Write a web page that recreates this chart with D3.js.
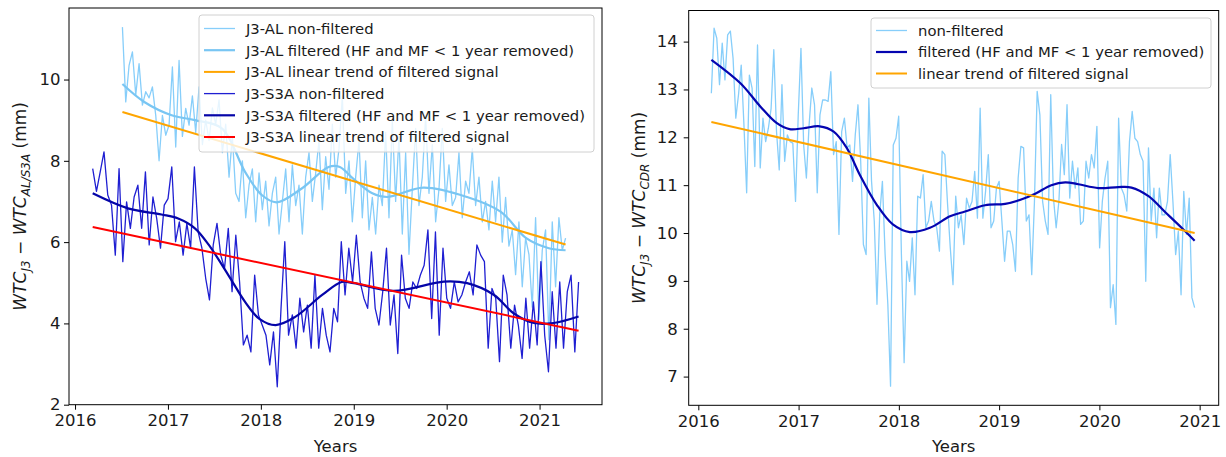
<!DOCTYPE html>
<html>
<head>
<meta charset="utf-8">
<script src="https://cdn.jsdelivr.net/npm/d3@7"></script>
<style>
  body { margin: 0; background: #ffffff; }
  svg { display: block; font-family: "DejaVu Sans", sans-serif; }
</style>
</head>
<body>
<svg id="chart" width="1226" height="457"></svg>
<script>
// ---------------- data ----------------
const yearTicks = [2016, 2017, 2018, 2019, 2020, 2021];
const leftYTicks = [2, 4, 6, 8, 10];
const rightYTicks = [7, 8, 9, 10, 11, 12, 13, 14];

// J3 - AL, one value per ~10-day cycle, first and last epoch (decimal years)
const alSpan = [2016.51, 2021.28];
const alRaw = [
  11.29, 9.45, 10.35, 10.68, 9.62, 10.39, 9.37,
  9.70, 9.55, 9.82, 9.12, 8.00, 9.12, 8.63,
  8.88, 10.31, 8.34, 10.47, 8.60, 9.29, 8.88,
  9.60, 8.70, 9.82, 8.40, 9.00, 8.50, 9.30,
  8.90, 9.50, 8.20, 8.90, 7.60, 8.60, 7.20,
  7.00, 8.00, 6.60, 7.40, 7.80, 6.50, 7.70,
  6.80, 7.50, 6.40, 7.20, 7.60, 6.20, 7.00,
  7.80, 6.50, 7.90, 6.90, 7.40, 6.20, 7.60,
  8.20, 7.00, 7.70, 8.50, 6.80, 8.10, 7.30,
  8.90, 7.60, 8.30, 9.60, 7.20, 8.00, 6.50,
  7.60, 8.50, 6.60, 8.00, 6.30, 7.10, 6.20,
  7.40, 6.90, 8.70, 6.60, 9.00, 7.00, 8.60,
  6.20, 8.20, 5.70, 7.30, 8.80, 6.90, 7.60,
  9.10, 7.20, 8.40, 6.50, 7.30, 8.80, 7.00,
  7.90, 6.90, 7.10, 8.20, 6.60, 7.50, 7.20,
  8.30, 6.90, 7.60, 6.50, 7.00, 6.30, 7.50,
  6.50, 7.60, 6.00, 7.10, 5.90, 6.30, 5.20,
  6.50, 4.90, 6.10, 5.70, 4.40, 6.60, 4.10,
  5.80, 6.30, 3.60, 6.50, 4.90, 6.60, 5.80, 6.10
];
const alFiltYears  = [2016.51, 2016.75, 2017.04, 2017.29, 2017.58, 2017.83, 2018.01, 2018.17, 2018.44, 2018.73, 2018.85, 2019.0, 2019.2, 2019.36, 2019.75, 2020.22, 2020.58, 2020.86, 2021.1, 2021.28];
const alFiltValues = [9.89, 9.44, 9.12, 9.00, 8.80, 7.73, 7.16, 6.98, 7.32, 7.85, 7.85, 7.55, 7.20, 7.11, 7.34, 7.11, 6.75, 6.09, 5.85, 5.80];
const alTrendYears  = [2016.51, 2021.28];
const alTrendValues = [9.20, 5.94];

// J3 - S3A
const s3aSpan = [2016.19, 2021.42];
const s3aRaw = [
  7.81, 7.25, 7.73, 8.22, 7.16, 6.91, 5.68, 7.81, 5.52, 6.99,
  6.34, 7.11, 7.40, 6.34, 7.73, 5.93, 7.11, 6.58, 5.85, 6.91,
  7.07, 7.85, 6.01, 6.50, 5.68, 6.46, 5.85, 7.85, 6.25, 5.85,
  5.11, 4.58, 5.93, 6.46, 5.68, 5.35, 6.34, 4.78, 6.17, 5.02,
  3.47, 3.71, 3.30, 5.19, 4.21, 3.96, 3.71, 2.98, 3.79, 2.44,
  4.37, 6.01, 3.71, 4.21, 3.39, 4.62, 3.79, 4.45, 3.39, 5.19,
  3.39, 4.37, 3.71, 3.30, 4.37, 4.04, 6.01, 4.70, 5.85,
  5.02, 6.17, 5.02, 4.62, 4.37, 5.76, 4.37, 3.96, 4.78, 5.85,
  3.96, 4.70, 3.26, 5.68, 4.62, 4.37, 5.02, 4.86, 5.19, 5.43,
  6.30, 4.12, 6.25, 3.71, 5.85, 4.62, 4.37, 5.02, 4.53, 4.70,
  5.02, 5.27, 4.70, 5.93, 5.68, 5.52, 3.39, 4.86, 4.62, 3.06,
  5.19, 4.70, 3.39, 4.45, 3.96, 3.14, 4.62, 3.39, 4.53, 3.47,
  5.52, 3.71, 2.81, 4.78, 3.39, 5.02, 3.39, 4.78, 5.19, 3.30, 5.02
];
const s3aFiltYears  = [2016.19, 2016.57, 2016.93, 2017.11, 2017.29, 2017.44, 2017.65, 2017.83, 2017.98, 2018.16, 2018.37, 2018.66, 2018.87, 2019.0, 2019.43, 2019.97, 2020.22, 2020.51, 2020.72, 2020.94, 2021.15, 2021.42];
const s3aFiltValues = [7.20, 6.83, 6.68, 6.58, 6.34, 5.93, 5.19, 4.53, 4.12, 3.96, 4.16, 4.70, 5.02, 4.99, 4.80, 5.03, 4.99, 4.70, 4.25, 4.01, 4.01, 4.17];
const s3aTrendYears  = [2016.19, 2021.42];
const s3aTrendValues = [6.37, 3.82];

// J3 - CDR
const cdrSpan = [2016.13, 2020.95];
const cdrRaw = [
  12.92, 14.28, 14.07, 13.10, 13.97, 13.20, 14.14, 14.22, 13.65, 12.40,
  12.89, 13.51, 12.26, 10.84, 13.30, 13.03, 11.39, 13.93, 11.36, 12.40,
  11.91, 12.19, 12.60, 13.83, 12.12, 11.32, 13.10, 11.50, 12.05, 11.91,
  11.88, 10.66, 12.47, 13.86, 11.84, 11.15, 12.26, 13.03, 12.68, 10.84,
  12.47, 12.78, 12.78, 12.75, 13.37, 11.64, 11.91, 9.97, 12.12, 12.40,
  11.78, 11.84, 11.08, 12.05, 12.68, 11.50, 9.76, 9.55, 12.82, 11.08,
  10.25, 8.51, 10.39, 11.08, 9.55, 8.51, 6.80, 11.84, 11.98, 12.44,
  9.55, 7.29, 9.41, 8.99, 9.90, 8.71, 10.77, 10.73, 11.22, 10.11,
  10.25, 10.66, 10.25, 10.11, 9.62, 11.71,
  11.64, 10.60, 9.69, 8.92, 10.77, 10.11, 10.38, 9.76, 10.73, 10.52,
  10.66, 11.29, 10.31, 12.61, 10.31, 10.87, 11.64, 10.11, 10.25, 10.94,
  11.08, 10.25, 9.41, 10.04, 10.04, 9.76, 9.20, 11.15, 11.81, 11.78,
  10.25, 10.38, 9.13, 10.66, 12.96, 12.47, 10.66, 10.25, 9.97, 12.89,
  10.73, 10.11, 10.66, 11.85, 11.22, 12.68, 10.73, 11.50, 10.94, 11.36,
  10.18, 10.25, 11.50, 11.15, 11.64, 11.36, 12.23, 9.69, 10.66, 11.15,
  11.50, 8.44, 8.92, 8.09, 12.40, 10.94, 10.80, 10.46, 11.91, 12.54,
  11.98, 11.91, 11.64, 11.50, 8.99, 11.78, 10.25, 10.94, 9.90, 10.94,
  10.38, 10.38, 10.66, 11.64, 10.66, 9.55, 10.04, 8.71, 10.87, 9.97,
  10.73, 8.65, 8.44
];
const cdrFiltYears  = [2016.13, 2016.42, 2016.62, 2016.78, 2016.91, 2017.05, 2017.21, 2017.35, 2017.48, 2017.61, 2017.78, 2017.94, 2018.11, 2018.31, 2018.51, 2018.66, 2018.86, 2019.06, 2019.22, 2019.36, 2019.52, 2019.66, 2019.79, 2019.99, 2020.19, 2020.32, 2020.49, 2020.65, 2020.82, 2020.95];
const cdrFiltValues = [13.62, 13.13, 12.64, 12.30, 12.17, 12.19, 12.23, 12.12, 11.78, 11.22, 10.59, 10.18, 10.02, 10.11, 10.35, 10.45, 10.58, 10.61, 10.70, 10.82, 11.00, 11.06, 11.02, 10.94, 10.96, 10.95, 10.77, 10.45, 10.11, 9.84];
const cdrTrendYears  = [2016.13, 2020.95];
const cdrTrendValues = [12.32, 10.00];

const leftLegend = [
  "J3-AL non-filtered",
  "J3-AL filtered (HF and MF < 1 year removed)",
  "J3-AL linear trend of filtered signal",
  "J3-S3A non-filtered",
  "J3-S3A filtered (HF and MF < 1 year removed)",
  "J3-S3A linear trend of filtered signal"
];
const rightLegend = [
  "non-filtered",
  "filtered (HF and MF < 1 year removed)",
  "linear trend of filtered signal"
];

// ---------------- helpers ----------------
function evenlySpaced(span, values) {
  const n = values.length;
  return values.map((v, i) => ({ t: span[0] + (span[1] - span[0]) * i / (n - 1), v }));
}
function paired(years, values) {
  return years.map((t, i) => ({ t, v: values[i] }));
}

const svg = d3.select("#chart");

function panel(cfg) {
  const g = svg.append("g");
  const x = d3.scaleLinear().domain(cfg.xDomain).range(cfg.xRange);
  const y = d3.scaleLinear().domain(cfg.yDomain).range(cfg.yRange);

  const clipId = "clip" + cfg.id;
  svg.append("clipPath").attr("id", clipId).append("rect")
    .attr("x", cfg.xRange[0]).attr("y", cfg.yRange[1])
    .attr("width", cfg.xRange[1] - cfg.xRange[0])
    .attr("height", cfg.yRange[0] - cfg.yRange[1]);

  const plot = g.append("g").attr("clip-path", `url(#${clipId})`);

  cfg.series.forEach(s => {
    const line = d3.line().x(d => x(d.t)).y(d => y(d.v))
      .curve(s.smooth ? d3.curveCatmullRom.alpha(0.5) : d3.curveLinear);
    plot.append("path")
      .datum(s.data)
      .attr("d", line)
      .attr("fill", "none")
      .attr("stroke", s.color)
      .attr("stroke-width", s.width)
      .attr("stroke-linejoin", "round")
      .attr("stroke-linecap", "butt");
  });

  // axes
  const xAxis = d3.axisBottom(x).tickValues(yearTicks).tickFormat(d3.format("d"))
    .tickSize(5).tickSizeOuter(0).tickPadding(5);
  const yAxis = d3.axisLeft(y).tickValues(cfg.yTicks).tickFormat(d3.format("d"))
    .tickSize(5).tickSizeOuter(0).tickPadding(cfg.yPad);

  const gx = g.append("g").attr("transform", `translate(0,${cfg.yRange[0]})`).call(xAxis);
  const gy = g.append("g").attr("transform", `translate(${cfg.xRange[0]},0)`).call(yAxis);
  [gx, gy].forEach(a => {
    a.select(".domain").remove();
    a.selectAll("line").attr("stroke", "#000").attr("stroke-width", 1);
    a.selectAll("text").attr("fill", "#1a1a1a")
      .style("font-family", '"DejaVu Sans", sans-serif').style("font-size", "16.5px");
  });

  // frame
  g.append("rect")
    .attr("x", cfg.xRange[0]).attr("y", cfg.yRange[1])
    .attr("width", cfg.xRange[1] - cfg.xRange[0])
    .attr("height", cfg.yRange[0] - cfg.yRange[1])
    .attr("fill", "none").attr("stroke", "#000").attr("stroke-width", 1);

  // x label
  g.append("text")
    .attr("x", (cfg.xRange[0] + cfg.xRange[1]) / 2).attr("y", 451.5)
    .attr("text-anchor", "middle").attr("fill", "#1a1a1a")
    .style("font-size", "16.5px").text("Years");

  // y label (math style)
  const yl = g.append("text")
    .attr("transform", `translate(${cfg.yLabelX},${(cfg.yRange[0] + cfg.yRange[1]) / 2}) rotate(-90)`)
    .attr("text-anchor", "middle").attr("fill", "#1a1a1a")
    .style("font-size", "17px");
  yl.append("tspan").style("font-style", "italic").text("WTC");
  yl.append("tspan").style("font-style", "italic").style("font-size", "12px").attr("dy", 4).text("J3");
  yl.append("tspan").attr("dy", -4).text(" \u2212 ");
  yl.append("tspan").style("font-style", "italic").text("WTC");
  yl.append("tspan").style("font-style", "italic").style("font-size", "12px").attr("dy", 4).text(cfg.subscript);
  yl.append("tspan").attr("dy", -4).text(" (mm)");

  // legend
  const L = cfg.legend;
  const lg = g.append("g");
  lg.append("rect")
    .attr("x", L.x).attr("y", L.y).attr("width", L.w).attr("height", L.h)
    .attr("rx", 3).attr("fill", "#ffffff").attr("fill-opacity", 0.8)
    .attr("stroke", "#d0d0d0").attr("stroke-width", 1);
  L.items.forEach((label, i) => {
    const s = cfg.series[i];
    const cy = L.firstY + i * L.step;
    lg.append("line")
      .attr("x1", L.x + 5).attr("x2", L.x + 36).attr("y1", cy).attr("y2", cy)
      .attr("stroke", s.color).attr("stroke-width", s.width);
    lg.append("text")
      .attr("x", L.x + 47).attr("y", cy).attr("dy", "0.36em")
      .attr("fill", "#1a1a1a").style("font-size", "14.8px").text(label);
  });
}

// left panel: J3 vs AL and S3A
panel({
  id: "L",
  xDomain: [2015.935, 2021.672], xRange: [69, 602],
  yDomain: [2, 11.76], yRange: [404.7, 8],
  yTicks: leftYTicks, yPad: 3.5, yLabelX: 26, subscript: "AL/S3A",
  series: [
    { data: evenlySpaced(alSpan, alRaw), color: "#87cefa", width: 1.3 },
    { data: paired(alFiltYears, alFiltValues), color: "#79c6f3", width: 2.2, smooth: true },
    { data: paired(alTrendYears, alTrendValues), color: "#ffa500", width: 2 },
    { data: evenlySpaced(s3aSpan, s3aRaw), color: "#1f1fd2", width: 1.3 },
    { data: paired(s3aFiltYears, s3aFiltValues), color: "#0505a8", width: 2.2, smooth: true },
    { data: paired(s3aTrendYears, s3aTrendValues), color: "#ff0000", width: 2 }
  ],
  legend: { x: 199, y: 15, w: 395, h: 137, firstY: 28.5, step: 21.7, items: leftLegend }
});

// right panel: J3 vs CDR
panel({
  id: "R",
  xDomain: [2015.904, 2021.19], xRange: [688.7, 1218.7],
  yDomain: [6.40, 14.65], yRange: [405.3, 10.5],
  yTicks: rightYTicks, yPad: 6, yLabelX: 645, subscript: "CDR",
  series: [
    { data: evenlySpaced(cdrSpan, cdrRaw), color: "#87cefa", width: 1.3 },
    { data: paired(cdrFiltYears, cdrFiltValues), color: "#0505b0", width: 2.2, smooth: true },
    { data: paired(cdrTrendYears, cdrTrendValues), color: "#ffa500", width: 2 }
  ],
  legend: { x: 871, y: 18, w: 340, h: 70, firstY: 30.5, step: 21.5, items: rightLegend }
});
</script>
</body>
</html>
